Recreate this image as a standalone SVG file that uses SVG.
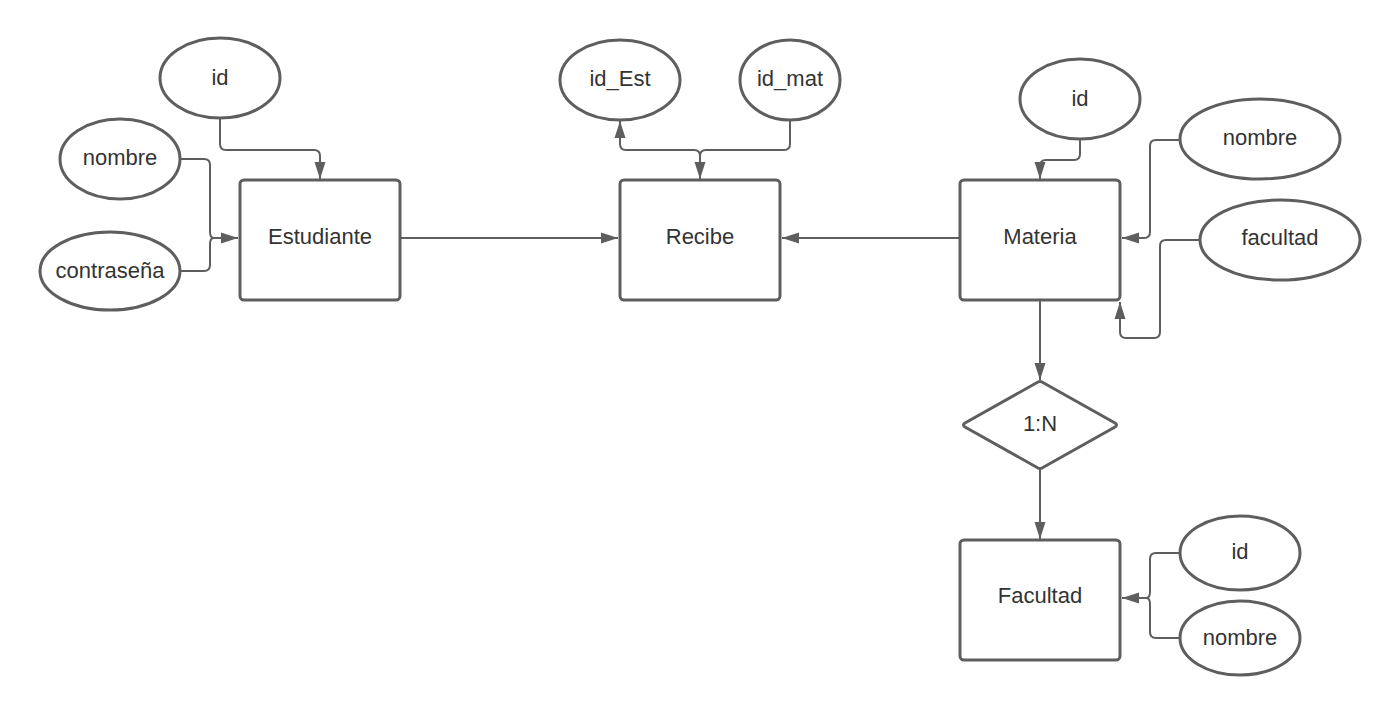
<svg xmlns="http://www.w3.org/2000/svg" width="1400" height="716" viewBox="0 0 1400 716">
  <style>
    .shape { fill: #ffffff; stroke: #5e5e5e; stroke-width: 3; }
    .edge { fill: none; stroke: #5e5e5e; stroke-width: 2; stroke-linejoin: round; }
    .label { font-family: "Liberation Sans", Arial, sans-serif; font-size: 22px; fill: #333333; text-anchor: middle; }
  </style>
  <defs>
    <marker id="arrow" viewBox="0 0 17 12" refX="17" refY="6" markerWidth="17" markerHeight="12" markerUnits="userSpaceOnUse" orient="auto">
      <path d="M0,0.5 L17,6 L0,11.5 Z" fill="#5e5e5e"/>
    </marker>
  </defs>
  <rect width="1400" height="716" fill="#ffffff"/>

  <!-- connectors -->
  <g id="connectors">
    <!-- Estudiante attributes -->
    <path class="edge" d="M220,118 V144 Q220,150 226,150 H314 Q320,150 320,156 V179" marker-end="url(#arrow)"/>
    <path class="edge" d="M181,159 H204 Q210,159 210,165 V232 Q210,238 214,238 H238" marker-end="url(#arrow)"/>
    <path class="edge" d="M180,271 H204 Q210,271 210,265 V244 Q210,238 214,238"/>
    <!-- Recibe attributes -->
    <path class="edge" d="M790,120 V144 Q790,150 784,150 H706 Q700,150 700,156 V179" marker-end="url(#arrow)"/>
    <path class="edge" d="M700,156 Q700,150 694,150 H626 Q620,150 620,144 V121" marker-end="url(#arrow)"/>
    <!-- entity links -->
    <path class="edge" d="M400,238 H618" marker-end="url(#arrow)"/>
    <path class="edge" d="M960,238 H782" marker-end="url(#arrow)"/>
    <!-- Materia attributes -->
    <path class="edge" d="M1080,140 V154 Q1080,160 1074,160 H1046 Q1040,160 1040,166 V179" marker-end="url(#arrow)"/>
    <path class="edge" d="M1179,140 H1156 Q1150,140 1150,146 V232 Q1150,238 1144,238 H1122" marker-end="url(#arrow)"/>
    <path class="edge" d="M1200,240 H1166 Q1160,240 1160,246 V332 Q1160,338 1154,338 H1126 Q1120,338 1120,332 V302" marker-end="url(#arrow)"/>
    <!-- Materia to relationship to Facultad -->
    <path class="edge" d="M1040,300 V380" marker-end="url(#arrow)"/>
    <path class="edge" d="M1040,469 V539" marker-end="url(#arrow)"/>
    <!-- Facultad attributes -->
    <path class="edge" d="M1180,553 H1156 Q1150,553 1150,559 V592 Q1150,598 1146,598 H1122" marker-end="url(#arrow)"/>
    <path class="edge" d="M1180,638 H1156 Q1150,638 1150,632 V604 Q1150,598 1146,598"/>
  </g>

  <!-- Estudiante -->
  <g id="estudiante">
    <rect class="shape" x="240" y="180" width="160" height="120" rx="4"/>
    <text class="label" x="320" y="244">Estudiante</text>
  </g>
  <g id="est-id">
    <ellipse class="shape" cx="220" cy="78" rx="60" ry="40"/>
    <text class="label" x="220" y="85">id</text>
  </g>
  <g id="est-nombre">
    <ellipse class="shape" cx="120" cy="159" rx="60" ry="40"/>
    <text class="label" x="120" y="165">nombre</text>
  </g>
  <g id="est-contrasena">
    <ellipse class="shape" cx="110" cy="271" rx="70" ry="39"/>
    <text class="label" x="110" y="278">contraseña</text>
  </g>

  <!-- Recibe -->
  <g id="recibe">
    <rect class="shape" x="620" y="180" width="160" height="120" rx="4"/>
    <text class="label" x="700" y="244">Recibe</text>
  </g>
  <g id="rec-id-est">
    <ellipse class="shape" cx="620" cy="80" rx="60" ry="40"/>
    <text class="label" x="620" y="86">id_Est</text>
  </g>
  <g id="rec-id-mat">
    <ellipse class="shape" cx="790" cy="80" rx="50" ry="40"/>
    <text class="label" x="790" y="86">id_mat</text>
  </g>

  <!-- Materia -->
  <g id="materia">
    <rect class="shape" x="960" y="180" width="160" height="120" rx="4"/>
    <text class="label" x="1040" y="244">Materia</text>
  </g>
  <g id="mat-id">
    <ellipse class="shape" cx="1080" cy="99" rx="60" ry="40"/>
    <text class="label" x="1080" y="106">id</text>
  </g>
  <g id="mat-nombre">
    <ellipse class="shape" cx="1260" cy="139" rx="80" ry="40"/>
    <text class="label" x="1260" y="145">nombre</text>
  </g>
  <g id="mat-facultad">
    <ellipse class="shape" cx="1280" cy="240" rx="80" ry="40"/>
    <text class="label" x="1280" y="245">facultad</text>
  </g>

  <!-- relationship -->
  <g id="rel-1n">
    <path class="shape" d="M1038,382 Q1040,381 1042,382 L1115,423 Q1118,425 1115,427 L1042,468 Q1040,469 1038,468 L965,427 Q962,425 965,423 Z"/>
    <text class="label" x="1040" y="431">1:N</text>
  </g>

  <!-- Facultad -->
  <g id="facultad">
    <rect class="shape" x="960" y="540" width="160" height="120" rx="4"/>
    <text class="label" x="1040" y="603">Facultad</text>
  </g>
  <g id="fac-id">
    <ellipse class="shape" cx="1240" cy="553" rx="60" ry="37"/>
    <text class="label" x="1240" y="559">id</text>
  </g>
  <g id="fac-nombre">
    <ellipse class="shape" cx="1240" cy="638" rx="60" ry="37"/>
    <text class="label" x="1240" y="645">nombre</text>
  </g>
</svg>
